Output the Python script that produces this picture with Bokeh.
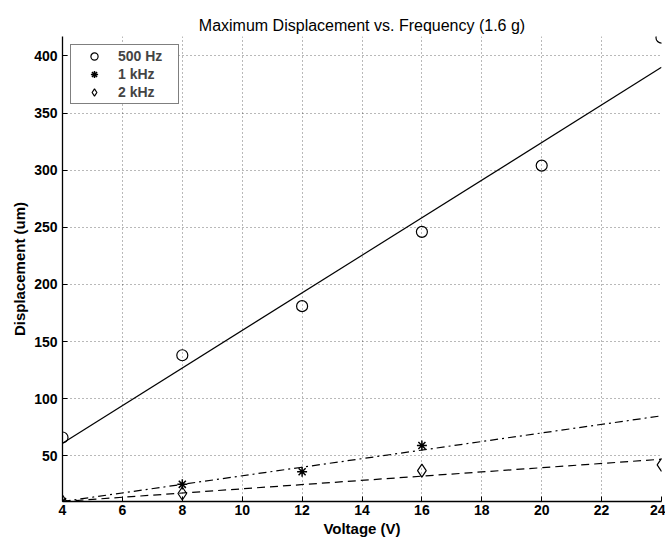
from bokeh.plotting import figure
from bokeh.models import Range1d, FixedTicker, Legend, LegendItem
from bokeh.embed import file_html
from bokeh.resources import INLINE

# Data
x_500 = [4, 8, 12, 16, 20, 24]
y_500 = [66, 138, 181, 246, 304, 416]
x_1k = [4, 8, 12, 16]
y_1k = [10, 25, 36, 59]
x_2k = [4, 8, 16, 24]
y_2k = [10, 17, 37, 42]

# fitted lines (endpoints)
fit_x = [4, 24]
fit_500 = [61, 390]
fit_1k = [10, 85]
fit_2k = [10, 47]

x_ticks = [4, 6, 8, 10, 12, 14, 16, 18, 20, 22, 24]
y_ticks = [50, 100, 150, 200, 250, 300, 350, 400]

FONT = "Liberation Sans"

p = figure(width=665, height=546, output_backend="svg", toolbar_location=None,
           x_range=Range1d(4, 24), y_range=Range1d(10, 417),
           min_border_left=62, min_border_right=4, min_border_top=36, min_border_bottom=45)

p.title.text = "Maximum Displacement vs. Frequency (1.6 g)"
p.title.align = "center"
p.title.text_font = FONT
p.title.text_font_size = "16px"
p.title.text_font_style = "normal"
p.title.text_color = "black"
p.title.offset = 0
p.title.standoff = 6

p.outline_line_color = None
p.background_fill_color = "white"
p.border_fill_color = "white"

for ax in (p.xaxis[0], p.yaxis[0]):
    ax.major_tick_in = 5
    ax.major_tick_out = 0
    ax.minor_tick_in = 0
    ax.minor_tick_out = 0
    ax.axis_line_color = "black"
    ax.axis_line_width = 1.3
    ax.major_tick_line_color = "black"
    ax.major_label_text_font = FONT
    ax.major_label_text_font_size = "14px"
    ax.major_label_text_font_style = "bold"
    ax.major_label_text_color = "black"
    ax.axis_label_text_font = FONT
    ax.axis_label_text_font_size = "15px"
    ax.axis_label_text_font_style = "bold"
    ax.axis_label_text_color = "black"

p.xaxis.ticker = FixedTicker(ticks=x_ticks)
p.yaxis.ticker = FixedTicker(ticks=y_ticks)
p.xaxis.axis_label = "Voltage (V)"
p.yaxis.axis_label = "Displacement (um)"
p.xaxis.major_label_standoff = 3
p.yaxis.major_label_standoff = 5
p.xaxis.axis_label_standoff = 2
p.yaxis.axis_label_standoff = 3

p.xgrid.grid_line_color = "black"
p.ygrid.grid_line_color = "black"
p.xgrid.grid_line_alpha = 0.55
p.ygrid.grid_line_alpha = 0.55
p.xgrid.grid_line_dash = "1 3"
p.ygrid.grid_line_dash = "1 3"

p.line(fit_x, fit_500, line_color="black", line_width=1.2)
p.line(fit_x, fit_1k, line_color="black", line_width=1.2, line_dash="8 4 2 4")
p.line(fit_x, fit_2k, line_color="black", line_width=1.2, line_dash="8 5")

r1 = p.scatter(x_500, y_500, marker="circle", size=11, fill_color=None,
               line_color="black", line_width=1.2)
r2 = p.scatter(x_1k, y_1k, marker="asterisk", size=10, line_color="black", line_width=1.5)
r3 = p.scatter(x_2k, y_2k, marker="diamond", size=13, fill_color=None,
               line_color="black", line_width=1.2)

legend = Legend(items=[
    LegendItem(label="500 Hz", renderers=[r1]),
    LegendItem(label="1 kHz", renderers=[r2]),
    LegendItem(label="2 kHz", renderers=[r3]),
], location="top_left")
legend.margin = 8
legend.padding = 2
legend.spacing = 0
legend.label_height = 18
legend.label_width = 58
legend.glyph_height = 18
legend.glyph_width = 42
legend.label_text_font = FONT
legend.label_text_font_size = "14px"
legend.label_text_font_style = "bold"
legend.label_standoff = 3
legend.border_line_color = "black"
legend.border_line_width = 1.3
legend.background_fill_alpha = 1
p.add_layout(legend)

open("out.html", "w").write(file_html(p, INLINE))
